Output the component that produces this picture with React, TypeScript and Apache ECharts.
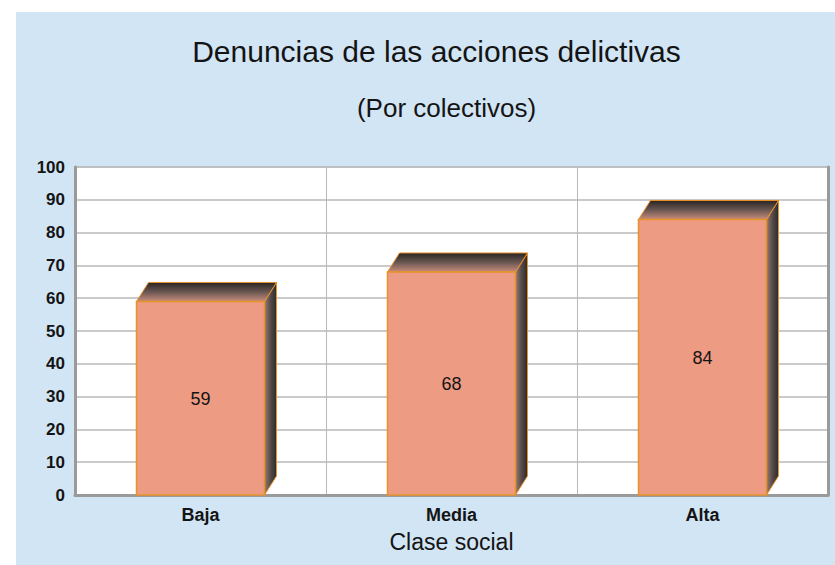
import React, { useEffect, useRef } from "react";
import * as echarts from "echarts";

const categories = ["Baja", "Media", "Alta"];
const values = [59, 68, 84];
const yTicks = { min: 0, max: 100, interval: 10 };
const titleText = "Denuncias de las acciones delictivas";
const subtitleText = "(Por colectivos)";
const xAxisName = "Clase social";

const FONT = "'Liberation Sans', Arial, Helvetica, sans-serif";
const TEXT = "#141414";

export default function App() {
  const ref = useRef<HTMLDivElement>(null);
  useEffect(() => {
    if (!ref.current) return;
    const chart = echarts.init(ref.current, null, { renderer: "svg" });
    const dx = 12;
    const dy = 19;
    const option: any = {
      animation: false,
      backgroundColor: "#ffffff",
      textStyle: { fontFamily: FONT },
      graphic: [
        {
          type: "rect",
          z: -10,
          silent: true,
          shape: { x: 16, y: 12, width: 835, height: 565 },
          style: { fill: "#d1e5f4" },
        },
        {
          type: "text",
          x: 436.5,
          y: 51.5,
          style: {
            text: titleText,
            align: "center",
            verticalAlign: "middle",
            fontSize: 30,
            fontFamily: FONT,
            fill: TEXT,
          },
        },
        {
          type: "text",
          x: 446.5,
          y: 108,
          style: {
            text: subtitleText,
            align: "center",
            verticalAlign: "middle",
            fontSize: 26,
            fontFamily: FONT,
            fill: TEXT,
          },
        },
      ],
      grid: {
        left: 75,
        width: 753,
        top: 167,
        height: 328,
        outerBoundsMode: "none",
        show: true,
        backgroundColor: "#ffffff",
        borderColor: "#b8b8b8",
        borderWidth: 1,
        z: 0,
      },
      xAxis: {
        type: "category",
        data: categories,
        boundaryGap: true,
        name: xAxisName,
        nameLocation: "middle",
        nameGap: 35,
        nameTextStyle: { fontSize: 23, color: TEXT, fontFamily: FONT },
        axisLine: { show: true, lineStyle: { color: "#9a9a9a", width: 3 } },
        axisTick: { show: false },
        axisLabel: {
          fontSize: 18,
          fontWeight: "bold",
          color: TEXT,
          margin: 11,
          fontFamily: FONT,
        },
        splitLine: { show: true, lineStyle: { color: "#b8b8b8", width: 1 } },
      },
      yAxis: [
        {
          type: "value",
          min: yTicks.min,
          max: yTicks.max,
          interval: yTicks.interval,
          axisLine: { show: true, lineStyle: { color: "#9a9a9a", width: 3 } },
          axisTick: { show: false },
          axisLabel: {
            fontSize: 17,
            fontWeight: "bold",
            color: TEXT,
            margin: 10,
            fontFamily: FONT,
          },
          splitLine: { show: true, lineStyle: { color: "#b8b8b8", width: 1.5 } },
        },
        {
          type: "value",
          position: "right",
          min: yTicks.min,
          max: yTicks.max,
          interval: yTicks.interval,
          axisLine: { show: true, lineStyle: { color: "#9a9a9a", width: 3 } },
          axisTick: { show: false },
          axisLabel: { show: false },
          splitLine: { show: false },
        },
      ],
      series: [
        {
          type: "custom",
          data: values.map((v, i) => [i, v]),
          encode: { x: 0, y: 1 },
          renderItem: (params: any, api: any) => {
            const i = api.value(0);
            const v = api.value(1);
            const top = api.coord([i, v]);
            const base = api.coord([i, 0]);
            const band = api.size([1, 0])[0];
            const w = band * 0.51;
            const x0 = top[0] - w / 2;
            const x1 = top[0] + w / 2;
            const yT = top[1];
            const yB = base[1];
            const stroke = "#e8922a";
            return {
              type: "group",
              children: [
                {
                  type: "polygon",
                  shape: {
                    points: [
                      [x1, yT],
                      [x1 + dx, yT - dy],
                      [x1 + dx, yB - dy],
                      [x1, yB],
                    ],
                  },
                  style: {
                    fill: new echarts.graphic.LinearGradient(0, 0, 1, 0, [
                      { offset: 0, color: "#9a7a6e" },
                      { offset: 0.5, color: "#554b49" },
                      { offset: 1, color: "#2c2a2a" },
                    ]),
                    stroke,
                    lineWidth: 1,
                  },
                },
                {
                  type: "polygon",
                  shape: {
                    points: [
                      [x0, yT],
                      [x0 + dx, yT - dy],
                      [x1 + dx, yT - dy],
                      [x1, yT],
                    ],
                  },
                  style: {
                    fill: new echarts.graphic.LinearGradient(0, 0, 0, 1, [
                      { offset: 0, color: "#2a2423" },
                      { offset: 0.5, color: "#6a5752" },
                      { offset: 1, color: "#c88c7c" },
                    ]),
                    stroke,
                    lineWidth: 1,
                  },
                },
                {
                  type: "rect",
                  shape: { x: x0, y: yT, width: w, height: yB - yT },
                  style: { fill: "#ed9b82", stroke, lineWidth: 1.5 },
                },
                {
                  type: "text",
                  style: {
                    text: String(v),
                    x: (x0 + x1) / 2,
                    y: (yT + yB) / 2 + 1,
                    align: "center",
                    verticalAlign: "middle",
                    fontSize: 18,
                    fontFamily: FONT,
                    fill: TEXT,
                  },
                },
              ],
            };
          },
        },
      ],
    };
    chart.setOption(option);
    return () => chart.dispose();
  }, []);
  return (
    <div
      ref={ref}
      style={{ position: "fixed", left: 0, top: 0, width: 835, height: 565 }}
    />
  );
}
